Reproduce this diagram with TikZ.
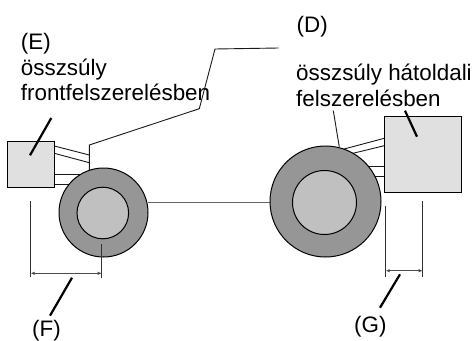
\documentclass[tikz,border=0pt]{standalone}
\usepackage{fontspec}
\setmainfont{Liberation Sans}
\usetikzlibrary{arrows.meta}
\definecolor{boxfill}{HTML}{E0E0E0}
\definecolor{tyrefill}{HTML}{969696}
\definecolor{hubfill}{HTML}{C0C0C0}
\tikzset{
  outline/.style={draw=black,line width=1pt},
  implement/.style={outline,fill=boxfill,rectangle,inner sep=0pt},
  tyre/.style={outline,fill=tyrefill,circle,inner sep=0pt},
  hub/.style={outline,fill=hubfill,circle,inner sep=0pt},
  thin link/.style={draw=black!90,line width=0.9pt},
  leader/.style={draw=black,line width=2.2pt},
  extension/.style={draw=black!80,line width=0.9pt},
  dimension/.style={draw=black!70,line width=1pt,{Latex[length=4pt,width=3.5pt]}-{Latex[length=4pt,width=3.5pt]}},
  label/.style={anchor=base west,inner sep=0pt,font=\fontsize{22.4}{26}\selectfont,text=black}
}
\begin{document}
\begin{tikzpicture}[x=1pt,y=-1pt]
\useasboundingbox (0,0) rectangle (476,340);
% linkage coordinates
\coordinate (lA) at (89.3,155);
\coordinate (lB) at (89.3,162.7);
\coordinate (lTop) at (89.3,145);
\coordinate (lEnd) at (89.3,170);
\coordinate (dA) at (199.3,108.7);
\coordinate (dB) at (215,49);
\coordinate (dC) at (278.7,48);
\coordinate (rA) at (343,149.3);
\coordinate (rB) at (353,153.3);
\coordinate (rC) at (333.3,110.7);
\coordinate (rD) at (339.3,147);
% links drawn behind boxes and wheels
\draw[thin link] (54.3,146) -- (lA);
\draw[thin link] (54.3,153.3) -- (lB);
\draw[thin link] (54.3,174) -- (85,174);
\draw[thin link] (54.3,184) -- (80,184);
\draw[thin link] (rA) -- (384.3,138.3);
\draw[thin link] (rB) -- (384.3,145.7);
\draw[thin link] (360,166.7) -- (384.3,166.7);
\draw[thin link] (365,176.7) -- (384.3,176.7);
\draw[draw=black!60,line width=1pt] (148,202) coordinate (axL) -- (270,202) coordinate (axR);
% boxes and wheels
\node[implement,minimum width=46.8pt,minimum height=45.4pt] (boxL) at (31,164.5) {};
\node[implement,minimum width=77.4pt,minimum height=76.3pt] (boxR) at (423,154.2) {};
\node[tyre,minimum size=89pt] (wheelL) at (103.5,212.5) {};
\node[hub,minimum size=51.6pt] (hubL) at (102.8,213) {};
\node[tyre,minimum size=111pt] (wheelR) at (325.5,201.5) {};
\node[hub,minimum size=64pt] (hubR) at (324.5,202.5) {};
% labels
\node[label] (E) at (20.7,49) {(E)};
\node[label] (Ea) at (20.7,75) {összsúly};
\node[label] (Eb) at (20.7,100) {frontfelszerelésben};
\node[label] (D) at (296.5,32) {(D)};
\node[label] (Ra) at (296,80) {összsúly hátoldali};
\node[label] (Rb) at (296,106) {felszerelésben};
\node[label] (F) at (32,336.5) {(F)};
\node[label] (G) at (354,332) {(G)};
% frame line to (D)
\draw[thin link] (lEnd) -- (lTop) -- (dA) -- (dB) -- (dC);
\draw[thin link] (rC) -- (rD);
% thick leaders
\coordinate (eA) at (51.3,118); \coordinate (eB) at (30,155.3);
\coordinate (hA) at (405,110.7); \coordinate (hB) at (417,136.7);
\coordinate (fA) at (72,277.7); \coordinate (fB) at (50,315.7);
\coordinate (gA) at (400,274.3); \coordinate (gB) at (380,307.7);
\draw[leader] (eA) -- (eB);
\draw[leader] (hA) -- (hB);
\draw[leader] (fA) -- (fB);
\draw[leader] (gA) -- (gB);
% dimensions
\coordinate (f1t) at (30.7,200.7); \coordinate (f1b) at (30.7,276.7);
\coordinate (f2t) at (101.7,244); \coordinate (f2b) at (101.7,277.7);
\coordinate (f1m) at (30.7,273.3); \coordinate (f2m) at (101.7,273.3);
\draw[extension] (f1t) -- (f1b);
\draw[extension] (f2t) -- (f2b);
\draw[dimension] (f1m) -- (f2m);
\coordinate (g1t) at (385.7,206); \coordinate (g1b) at (385.7,276.7);
\coordinate (g2t) at (422.7,200.7); \coordinate (g2b) at (422.7,276.7);
\coordinate (g1m) at (385.7,270.7); \coordinate (g2m) at (422.7,270.7);
\draw[extension] (g1t) -- (g1b);
\draw[extension] (g2t) -- (g2b);
\draw[dimension] (g1m) -- (g2m);
\end{tikzpicture}
\end{document}
